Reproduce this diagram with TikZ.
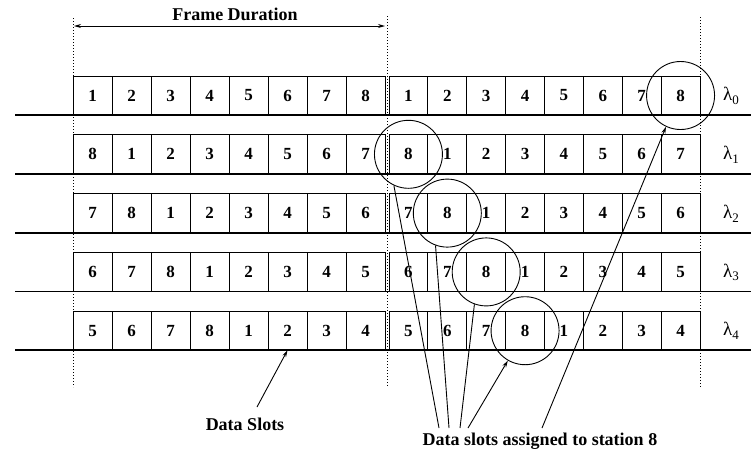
\documentclass[tikz,border=0pt]{standalone}
\usepackage{fontspec}
\setmainfont{Liberation Serif}
\usetikzlibrary{arrows.meta,calc}
\begin{document}
\begin{tikzpicture}[x=1pt,y=-1pt,
  slotbox/.style={draw, line width=1pt, minimum height=39pt, inner sep=0pt, outer sep=0pt,
    font=\bfseries\fontsize{17}{19}\selectfont, anchor=north west},
  baseln/.style={line width=1.8pt},
  dotln/.style={line width=1pt, dotted},
  lam/.style={font=\fontsize{19}{21}\selectfont, inner sep=0pt},
  lbl/.style={font=\bfseries\fontsize{18}{20}\selectfont, inner sep=1pt},
  ring/.style={draw, circle, line width=0.9pt, minimum size=68pt, inner sep=0pt},
  conn/.style={line width=0.9pt},
  tip/.style={-{Stealth[length=7pt,width=4pt]}}
]
\useasboundingbox (0,0) rectangle (751,456);
% dotted frame boundaries
\coordinate (d1t) at (73,18);  \coordinate (d1b) at (73,387);
\coordinate (d2t) at (387,16); \coordinate (d2b) at (387,387);
\coordinate (d3t) at (700,17); \coordinate (d3b) at (700,387);
\draw[dotln] (d1t) -- (d1b);
\draw[dotln] (d2t) -- (d2b);
\draw[dotln] (d3t) -- (d3b);
% frame duration
\coordinate (fd1) at (74,26);
\coordinate (fd2) at (385,26);
\draw[line width=0.9pt, {Stealth[length=7pt,width=4pt]}-{Stealth[length=7pt,width=4pt]}] (fd1) -- (fd2);
\node[lbl] (fdlabel) at (235,14) {Frame Duration};
% rows
\foreach \i in {0,...,4} {
  \pgfmathsetmacro\rowtop{76+58.8*\i}
  \foreach \j in {0,...,7} {
    \pgfmathtruncatemacro\v{mod(\j-\i+8,8)+1}
    \node[slotbox, minimum width=39pt, fill=white] (a\i\j) at ({73+39*\j},\rowtop) {\v};
    \node[slotbox, minimum width=38.875pt, fill=white] (b\i\j) at ({389+38.875*\j},\rowtop) {\v};
  }
  \draw[baseln] (15,\rowtop+39) -- (751,\rowtop+39);
  \node[lam] (l\i) at (731,\rowtop+20) {λ\raisebox{-0.45ex}{\fontsize{13}{14}\selectfont \i}};
}
% circles around station 8 slots
\node[ring] (c0) at (b07.center) {};
\node[ring] (c1) at (b10.center) {};
\node[ring] (c2) at (b21.center) {};
\node[ring] (c3) at (b32.center) {};
\node[ring] (c4) at (b43.center) {};
% labels
\node[lbl] (ds) at (245,424) {Data Slots};
\node[lbl] (st8) at (540,441) {Data slots assigned to station 8};
% connectors
\coordinate (dsf) at (257,407);
\draw[conn, tip] (dsf) -- (a45.south);
\coordinate (s1) at (439,428);
\coordinate (s2) at (449,428);
\coordinate (s3) at (460,428);
\coordinate (s4) at (468,428);
\coordinate (s5) at (542,428);
\draw[conn] (s1) -- (c1.245);
\draw[conn] (s2) -- (c2.250);
\draw[conn] (s3) -- (c3.250);
\draw[conn, tip] (s4) -- (c4.240);
\draw[conn, tip] (s5) -- (c0.245);
\end{tikzpicture}
\end{document}
